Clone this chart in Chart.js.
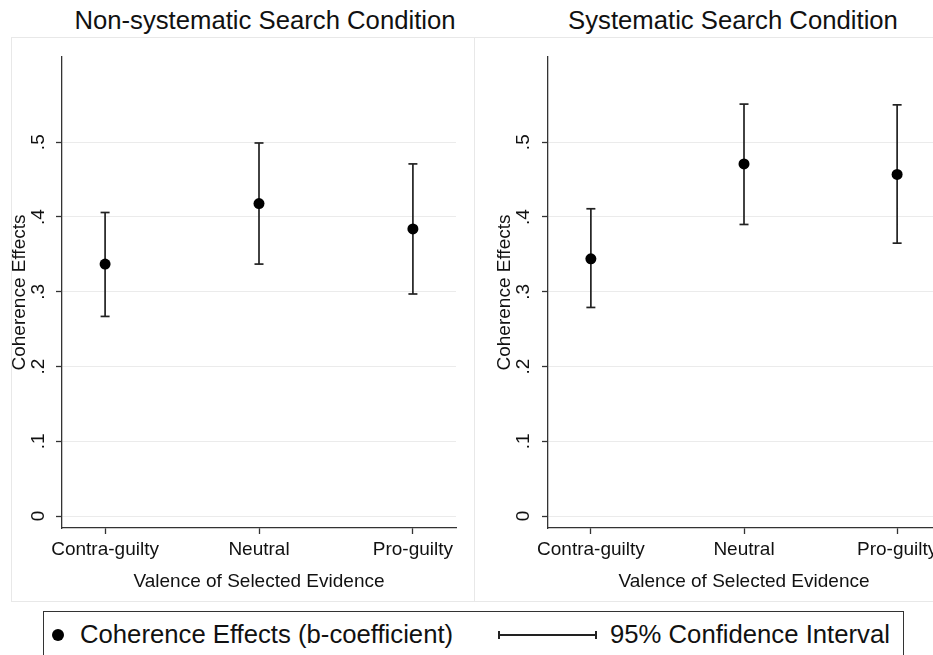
<!DOCTYPE html>
<html>
<head>
<meta charset="utf-8">
<script src="https://cdn.jsdelivr.net/npm/chart.js@4.4.1/dist/chart.umd.min.js"></script>
<style>
  html, body { margin: 0; padding: 0; background: #fff; overflow: hidden; }
  body { width: 933px; height: 655px; position: relative; font-family: "Liberation Sans", Arial, sans-serif; color: #111; }
  .box { position: absolute; box-sizing: border-box; border: 1px solid #e8e8e8; }
  .title { position: absolute; top: 8px; font-size: 25.7px; line-height: 25px; white-space: nowrap; transform: translateX(-50%); }
  canvas { position: absolute; top: 0; }
  #legend { position: absolute; left: 43px; top: 611px; width: 861px; height: 70px; box-sizing: border-box; border: 1.5px solid #333; }
  .ltext { position: absolute; top: 622px; font-size: 25.7px; line-height: 25px; white-space: nowrap; }
  #dot { position: absolute; left: 52px; top: 629px; width: 12px; height: 12px; border-radius: 50%; background: #000; }
  #ci { position: absolute; left: 498px; top: 631px; width: 95px; height: 8px; border-left: 2px solid #222; border-right: 2px solid #222; }
  #ci::after { content: ""; position: absolute; left: 0; right: 0; top: 3px; height: 2px; background: #222; }
</style>
</head>
<body>
<div class="box" style="left:11px; top:37px; width:464px; height:565px;"></div>
<div class="box" style="left:474px; top:37px; width:480px; height:565px;"></div>
<div class="title" style="left:265px;">Non-systematic Search Condition</div>
<div class="title" style="left:733px;">Systematic Search Condition</div>
<canvas id="leftChart" width="474" height="600" style="left:0px;"></canvas>
<canvas id="rightChart" width="480" height="600" style="left:474px;"></canvas>
<div id="legend"></div>
<div id="dot"></div>
<div class="ltext" style="left:80px;">Coherence Effects (b-coefficient)</div>
<div id="ci"></div>
<div class="ltext" style="left:610px;">95% Confidence Interval</div>
<script>
// Categorías y valores
const categories = ["Contra-guilty", "Neutral", "Pro-guilty"];

// Condición no sistemática
const nonSysCoef = [0.337, 0.418, 0.384];
const nonSysLower = [0.267, 0.337, 0.297];
const nonSysUpper = [0.406, 0.499, 0.471];

// Condición sistemática
const sysCoef = [0.344, 0.471, 0.457];
const sysLower = [0.279, 0.390, 0.365];
const sysUpper = [0.411, 0.551, 0.550];

// Marcas del eje Y
const yTicks = [0, 0.1, 0.2, 0.3, 0.4, 0.5];
const yTickLabels = ["0", ".1", ".2", ".3", ".4", ".5"];

const axisColor = '#333';
const textColor = '#111';
const fontFamily = '"Liberation Sans", Arial, sans-serif';

// Intervalos como segmentos separados por huecos (null)
function ciPoints(lower, upper) {
    const pts = [];
    categories.forEach((c, i) => {
        pts.push({ x: i, y: lower[i] });
        pts.push({ x: i, y: upper[i] });
        pts.push({ x: i, y: null });
    });
    return pts;
}

function makePanel(canvasId, coef, lower, upper, cfg) {
    const ctx = document.getElementById(canvasId).getContext("2d");
    return new Chart(ctx, {
        type: 'scatter',
        data: {
            datasets: [{
                label: 'Coherence Effects (b-coefficient)',
                data: coef.map((v, i) => ({ x: i, y: v })),
                pointRadius: 5.5,
                pointBackgroundColor: '#000',
                pointBorderWidth: 0
            }, {
                label: '95% Confidence Interval',
                data: ciPoints(lower, upper),
                showLine: true,
                spanGaps: false,
                borderColor: '#222',
                borderWidth: 1.7,
                pointStyle: 'line',
                pointRadius: 4.5,
                pointBorderColor: '#222',
                pointBorderWidth: 1.7
            }]
        },
        options: {
            responsive: false,
            animation: false,
            events: [],
            layout: { padding: { top: 57, right: cfg.padRight, bottom: 0, left: 0 } },
            plugins: { legend: { display: false }, tooltip: { enabled: false } },
            scales: {
                x: {
                    type: 'linear',
                    min: -0.28,
                    max: 2.28,
                    afterBuildTicks: axis => { axis.ticks = categories.map((c, i) => ({ value: i })); },
                    afterFit: axis => { axis.height = 72; },
                    ticks: {
                        callback: v => categories[v],
                        color: textColor,
                        font: { family: fontFamily, size: 19 },
                        padding: 4,
                        maxRotation: 0,
                        autoSkip: false
                    },
                    grid: { drawOnChartArea: false, tickLength: 6, tickColor: axisColor, tickWidth: 1.3 },
                    border: { color: axisColor, width: 1.3 },
                    title: {
                        display: true,
                        text: 'Valence of Selected Evidence',
                        color: textColor,
                        font: { family: fontFamily, size: 19 },
                        padding: { top: 0, bottom: 7 }
                    }
                },
                y: {
                    min: -0.016,
                    max: 0.614,
                    afterBuildTicks: axis => { axis.ticks = yTicks.map(v => ({ value: v })); },
                    afterFit: axis => { axis.width = cfg.yWidth; },
                    ticks: {
                        callback: v => yTickLabels[yTicks.indexOf(v)],
                        color: textColor,
                        font: { family: fontFamily, size: 19 },
                        minRotation: 90,
                        maxRotation: 90,
                        crossAlign: 'center',
                        padding: cfg.tickPad,
                        autoSkip: false
                    },
                    grid: { color: '#ebebeb', lineWidth: 1, tickLength: 6, tickColor: axisColor, tickWidth: 1.3 },
                    border: { color: axisColor, width: 1.3 },
                    title: {
                        display: true,
                        text: 'Coherence Effects',
                        color: textColor,
                        font: { family: fontFamily, size: 19 },
                        padding: { top: cfg.titlePad, bottom: 0 }
                    }
                }
            }
        }
    });
}

makePanel("leftChart", nonSysCoef, nonSysLower, nonSysUpper, { yWidth: 62, padRight: 18, tickPad: 9, titlePad: 8.6 });
makePanel("rightChart", sysCoef, sysLower, sysUpper, { yWidth: 74, padRight: 14, tickPad: 10, titlePad: 19.6 });
</script>
</body>
</html>
